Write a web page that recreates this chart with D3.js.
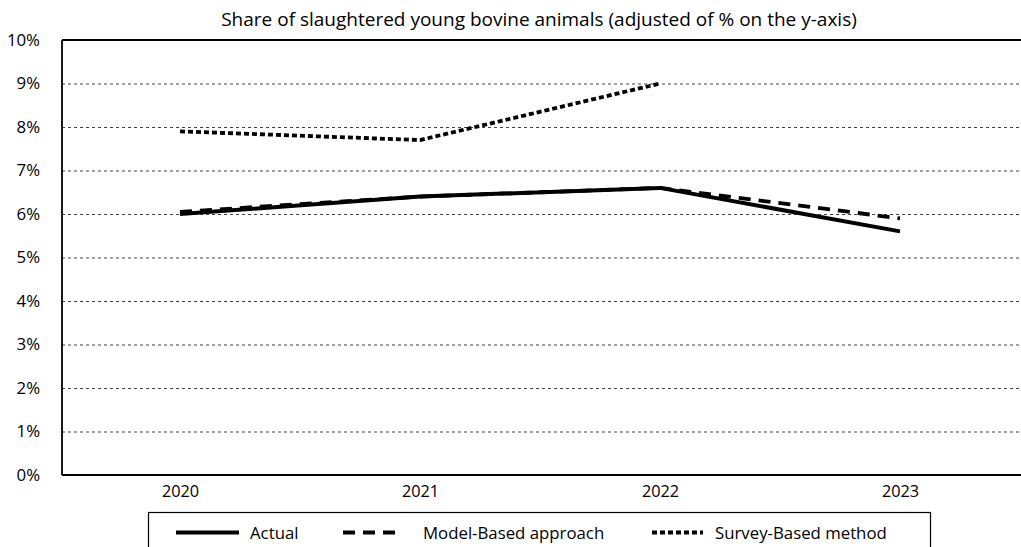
<!DOCTYPE html>
<html><head><meta charset="utf-8">
<script src="https://cdn.jsdelivr.net/npm/d3@7"></script>
<style>
html,body{margin:0;padding:0;background:#fff;}
text{font-family:"Open Sans","Noto Sans",sans-serif;fill:#000;}
</style></head>
<body>
<svg id="chart" width="1021" height="547"></svg>
<script>
const years = ["2020","2021","2022","2023"];
const actual = [6.0, 6.4, 6.6, 5.6];
const modelBased = [6.05, 6.4, 6.6, 5.9];
const surveyBased = [7.9, 7.7, 9.0, null];
const yTicks = [0,1,2,3,4,5,6,7,8,9,10];
const seriesNames = ["Actual","Model-Based approach","Survey-Based method"];
const title = "Share of slaughtered young bovine animals (adjusted of % on the y-axis)";

const svg = d3.select("#chart");
const W = 1021, H = 547;
const m = {left:62, right:0, top:40, bottom:72};
const x = d3.scalePoint().domain(years).range([60, 1020]).padding(0.5);
const y = d3.scaleLinear().domain([0,10]).range([H - m.bottom, m.top]);

// title
svg.append("text").attr("x", 539).attr("y", 26).attr("text-anchor","middle")
  .style("font-size","19px").text(title);

// gridlines
svg.append("g").selectAll("line").data(yTicks.filter(d => d>0 && d<10)).join("line")
  .attr("x1", m.left).attr("x2", W).attr("y1", d=>y(d)+0.5).attr("y2", d=>y(d)+0.5)
  .attr("stroke","#444").attr("stroke-width",1).attr("stroke-dasharray","3,3");

// axes
const yAxis = d3.axisLeft(y).tickValues(yTicks).tickFormat(d=>d+"%").tickSize(0).tickPadding(22);
const gy = svg.append("g").attr("transform",`translate(${m.left},0)`).call(yAxis);
gy.select(".domain").remove();
gy.selectAll("text").style("font-size","16.8px").style("font-family",'"Open Sans",sans-serif');

const xAxis = d3.axisBottom(x).tickSize(0).tickPadding(10);
const gx = svg.append("g").attr("transform",`translate(0,${H-m.bottom})`).call(xAxis);
gx.select(".domain").remove();
gx.selectAll("text").style("font-size","16.3px").style("font-family",'"Open Sans",sans-serif');

// frame lines
svg.append("line").attr("x1",m.left).attr("x2",W).attr("y1",y(10)).attr("y2",y(10)).attr("stroke","#000").attr("stroke-width",1.8);
svg.append("line").attr("x1",m.left).attr("x2",W).attr("y1",y(0)).attr("y2",y(0)).attr("stroke","#000").attr("stroke-width",1.8);
svg.append("line").attr("x1",m.left).attr("x2",m.left).attr("y1",y(10)).attr("y2",y(0)).attr("stroke","#000").attr("stroke-width",1.8);

const styles = [
  {dash:null, width:4},
  {dash:"12,8", width:3.8},
  {dash:"5,3", width:3.8}
];
const data = [actual, modelBased, surveyBased];
const line = d3.line().defined(d=>d.v!=null).x(d=>x(d.k)).y(d=>y(d.v));
[2,1,0].forEach(i=>{
  const pts = years.map((k,j)=>({k, v:data[i][j]}));
  svg.append("path").datum(pts).attr("d", line).attr("fill","none")
    .attr("stroke","#000").attr("stroke-width",styles[i].width)
    .attr("stroke-dasharray",styles[i].dash)
    .attr("stroke-linejoin","round");
});

// legend
const lg = svg.append("g");
lg.append("rect").attr("x",148.5).attr("y",512.5).attr("width",782).attr("height",40)
  .attr("fill","#fff").attr("stroke","#000").attr("stroke-width",1.2);
const legItems = [
  {x1:176, x2:239, tx:250},
  {x1:343, x2:403, tx:423},
  {x1:652, x2:703, tx:715}
];
legItems.forEach((it,i)=>{
  lg.append("line").attr("x1",it.x1).attr("x2",it.x2).attr("y1",532.5).attr("y2",532.5)
    .attr("stroke","#000").attr("stroke-width",styles[i].width).attr("stroke-dasharray",styles[i].dash);
  lg.append("text").attr("x",it.tx).attr("y",538.5).style("font-size","16.8px").text(seriesNames[i]);
});
</script>
</body></html>
